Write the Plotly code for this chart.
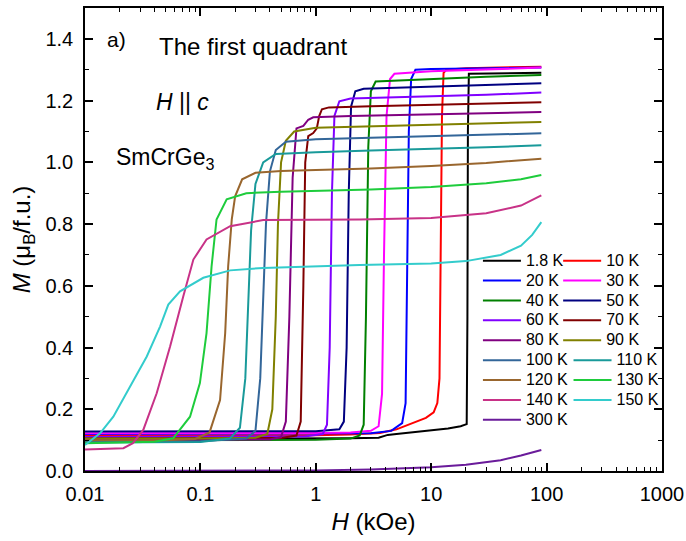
import plotly.graph_objects as go

# ---------------- data ----------------
temps = ["1.8 K", "10 K", "20 K", "30 K", "40 K", "50 K", "60 K", "70 K", "80 K",
         "90 K", "100 K", "110 K", "120 K", "130 K", "140 K", "150 K", "300 K"]
colors = ["#000000", "#FF0000", "#0000FF", "#FF00FF", "#008000", "#000080", "#8000FF",
          "#800000", "#800080", "#808000", "#336699", "#199A9A", "#99662E", "#1ECC3C",
          "#C83287", "#33CCCC", "#6A1B9A"]
# legend column assignment (as in the reference's two-column legend)
legend_col2_top = ["10 K", "30 K", "50 K", "70 K", "90 K"]
legend_col2_bottom = ["110 K", "130 K", "150 K"]

H_1p8 = [0.01, 0.1, 1, 2, 3.5, 4.2, 5, 7, 10, 14, 18, 20.3, 20.6, 20.8, 21.2, 30, 50, 90]
M_1p8 = [0.105, 0.105, 0.105, 0.106, 0.108, 0.117, 0.12, 0.126, 0.132, 0.138, 0.145, 0.152, 0.5, 1.1, 1.287, 1.288, 1.289, 1.29]

H_10 = [0.01, 0.1, 1, 2, 3.6, 5, 7, 9, 10.5, 11.3, 11.8, 12.1, 12.4, 12.8, 13.5, 20, 40, 90]
M_10 = [0.115, 0.115, 0.116, 0.118, 0.123, 0.135, 0.156, 0.172, 0.19, 0.22, 0.3, 0.7, 1.15, 1.29, 1.30, 1.305, 1.308, 1.31]

H_20 = [0.01, 0.1, 1, 3, 4.5, 5.6, 6.0, 6.2, 6.4, 6.7, 7.3, 10, 30, 90]
M_20 = [0.12, 0.12, 0.12, 0.122, 0.13, 0.155, 0.22, 0.6, 1.1, 1.27, 1.30, 1.302, 1.305, 1.307]

H_30 = [0.01, 0.1, 1, 2, 3.0, 3.5, 3.75, 3.9, 4.1, 4.4, 4.8, 10, 30, 90]
M_30 = [0.122, 0.122, 0.123, 0.125, 0.13, 0.145, 0.25, 0.7, 1.15, 1.27, 1.287, 1.295, 1.302, 1.307]

H_40 = [0.01, 0.1, 1, 2, 2.4, 2.6, 2.72, 2.85, 3.0, 3.3, 10, 30, 90]
M_40 = [0.10, 0.10, 0.101, 0.105, 0.115, 0.15, 0.5, 1.05, 1.23, 1.262, 1.27, 1.277, 1.283]

H_50 = [0.01, 0.1, 1, 1.6, 1.75, 1.85, 1.93, 2.02, 2.2, 2.6, 10, 30, 90]
M_50 = [0.128, 0.128, 0.129, 0.135, 0.16, 0.4, 0.9, 1.18, 1.23, 1.238, 1.245, 1.25, 1.256]

H_60 = [0.01, 0.1, 0.8, 1.15, 1.25, 1.32, 1.38, 1.45, 1.6, 2.0, 10, 30, 90]
M_60 = [0.11, 0.11, 0.112, 0.12, 0.15, 0.4, 0.9, 1.15, 1.198, 1.207, 1.213, 1.219, 1.226]

H_70 = [0.01, 0.1, 0.5, 0.68, 0.74, 0.78, 0.81, 0.86, 0.95, 1.02, 1.07, 1.13, 1.3, 3, 10, 30, 90]
M_70 = [0.105, 0.105, 0.107, 0.115, 0.16, 0.6, 1.0, 1.085, 1.095, 1.11, 1.15, 1.172, 1.178, 1.182, 1.186, 1.19, 1.195]

H_80 = [0.01, 0.1, 0.4, 0.5, 0.55, 0.59, 0.63, 0.68, 0.78, 0.86, 0.95, 2, 10, 30, 90]
M_80 = [0.10, 0.10, 0.102, 0.11, 0.16, 0.5, 0.95, 1.11, 1.118, 1.138, 1.146, 1.15, 1.155, 1.159, 1.163]

H_90 = [0.01, 0.1, 0.3, 0.38, 0.42, 0.45, 0.47, 0.5, 0.55, 0.65, 1, 3, 10, 30, 90]
M_90 = [0.105, 0.105, 0.108, 0.12, 0.2, 0.5, 0.8, 1.0, 1.07, 1.1, 1.112, 1.117, 1.122, 1.127, 1.131]

H_100 = [0.01, 0.1, 0.25, 0.3, 0.33, 0.35, 0.37, 0.4, 0.45, 0.55, 1, 3, 10, 30, 90]
M_100 = [0.095, 0.096, 0.105, 0.13, 0.3, 0.55, 0.8, 0.97, 1.04, 1.067, 1.075, 1.08, 1.085, 1.09, 1.094]

H_110 = [0.01, 0.1, 0.18, 0.22, 0.245, 0.26, 0.275, 0.3, 0.35, 0.45, 1, 3, 10, 30, 90]
M_110 = [0.092, 0.094, 0.105, 0.14, 0.3, 0.55, 0.78, 0.93, 1.0, 1.027, 1.033, 1.038, 1.043, 1.049, 1.055]

H_120 = [0.01, 0.05, 0.09, 0.12, 0.148, 0.164, 0.174, 0.187, 0.2, 0.23, 0.3, 0.5, 1, 3, 10, 30, 90]
M_120 = [0.10, 0.10, 0.104, 0.125, 0.23, 0.447, 0.663, 0.815, 0.89, 0.945, 0.966, 0.972, 0.975, 0.98, 0.988, 0.998, 1.012]

H_130 = [0.01, 0.04, 0.058, 0.0813, 0.099, 0.113, 0.125, 0.138, 0.169, 0.25, 0.5, 3, 10, 30, 60, 90]
M_130 = [0.09, 0.095, 0.106, 0.176, 0.285, 0.447, 0.663, 0.815, 0.88, 0.9, 0.905, 0.912, 0.92, 0.932, 0.945, 0.959]

H_140 = [0.01, 0.0215, 0.026, 0.032, 0.0418, 0.0547, 0.0711, 0.0869, 0.113, 0.181, 0.35, 2.4, 10, 30, 60, 90]
M_140 = [0.07, 0.074, 0.09, 0.133, 0.252, 0.404, 0.566, 0.685, 0.75, 0.793, 0.813, 0.815, 0.82, 0.835, 0.86, 0.893]

H_150 = [0.01, 0.0135, 0.0176, 0.0245, 0.0343, 0.0447, 0.0527, 0.0666, 0.106, 0.181, 0.35, 2.4, 10, 20, 40, 60, 75, 90]
M_150 = [0.084, 0.122, 0.176, 0.274, 0.371, 0.468, 0.539, 0.582, 0.626, 0.65, 0.658, 0.667, 0.672, 0.68, 0.70, 0.73, 0.765, 0.806]

H_300 = [0.01, 0.1, 1, 3, 10, 20, 40, 60, 90]
M_300 = [0.0, 0.0, 0.002, 0.005, 0.012, 0.02, 0.035, 0.05, 0.068]

H_all = [H_1p8, H_10, H_20, H_30, H_40, H_50, H_60, H_70, H_80,
         H_90, H_100, H_110, H_120, H_130, H_140, H_150, H_300]
M_all = [M_1p8, M_10, M_20, M_30, M_40, M_50, M_60, M_70, M_80,
         M_90, M_100, M_110, M_120, M_130, M_140, M_150, M_300]

x_tickvals = [0.01, 0.1, 1, 10, 100, 1000]
x_ticktext = ["0.01", "0.1", "1", "10", "100", "1000"]

# ---------------- figure ----------------
FONT = "Liberation Sans, Arial, sans-serif"
fig = go.Figure()
for name, c, H, M in zip(temps, colors, H_all, M_all):
    if name in legend_col2_top:
        lg = "legend2"
    elif name in legend_col2_bottom:
        lg = "legend3"
    else:
        lg = "legend"
    fig.add_trace(go.Scatter(
        x=H, y=M, mode="lines",
        name="<span style='font-size:16px'>%s</span>" % name,
        line=dict(color=c, width=2),
        legend=lg,
    ))

axis_common = dict(
    showline=True, linecolor="black", linewidth=1.5, mirror="ticks",
    ticks="inside", ticklen=8, tickwidth=1.5, tickcolor="black",
    showgrid=False, zeroline=False, automargin=False,
)

legend_style = dict(
    xanchor="left", yanchor="top",
    bgcolor="rgba(0,0,0,0)", borderwidth=0,
    font=dict(family=FONT, size=13, color="black"),
    itemwidth=38, tracegroupgap=0,
)

fig.update_layout(
    width=686, height=541,
    margin=dict(l=85, r=24, t=8, b=70, autoexpand=False),
    paper_bgcolor="white", plot_bgcolor="white",
    font=dict(family=FONT, color="black", size=20),
    xaxis=dict(
        type="log", range=[-2, 3],
        tickmode="array", tickvals=x_tickvals, ticktext=x_ticktext,
        tickfont=dict(size=20), ticklabelstandoff=4,
        minor=dict(ticks="inside", ticklen=4, tickwidth=1.2, tickcolor="black", dtick="D1", showgrid=False),
        title=dict(text="<i>H</i> (kOe)", font=dict(size=24), standoff=9),
        **axis_common,
    ),
    yaxis=dict(
        range=[0, 1.5], dtick=0.2, tick0=0, tickformat=".1f",
        tickfont=dict(size=20), ticklabelstandoff=6,
        minor=dict(ticks="inside", ticklen=4, tickwidth=1.2, tickcolor="black", dtick=0.1, showgrid=False),
        title=dict(text="<i>M</i> (μ<sub>B</sub>/f.u.)", font=dict(size=24), standoff=8),
        **axis_common,
    ),
    legend=dict(x=0.681, y=0.4866, **legend_style),
    legend2=dict(x=0.82, y=0.4866, **legend_style),
    legend3=dict(x=0.838, y=0.2717, **legend_style),
    annotations=[
        dict(text="a)", xref="paper", yref="paper", x=0.0347, y=0.931,
             xanchor="left", yanchor="middle", showarrow=False, font=dict(size=21)),
        dict(text="The first quadrant", xref="paper", yref="paper", x=0.125, y=0.916,
             xanchor="left", yanchor="middle", showarrow=False, font=dict(size=24)),
        dict(text="<i>H</i> || <i>c</i>", xref="paper", yref="paper", x=0.12, y=0.797,
             xanchor="left", yanchor="middle", showarrow=False, font=dict(size=23)),
        dict(text="SmCrGe<sub>3</sub>", xref="paper", yref="paper", x=0.05, y=0.675,
             xanchor="left", yanchor="middle", showarrow=False, font=dict(size=23)),
    ],
)

fig.write_html("out.html", config={"displayModeBar": False},
               post_script="document.body.style.margin='0px';")
